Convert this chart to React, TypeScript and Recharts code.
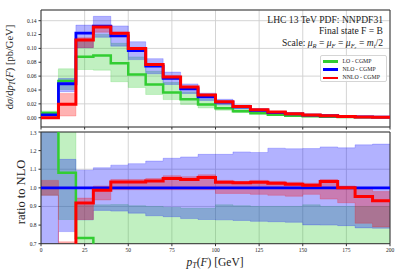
import {
  Area,
  CartesianGrid,
  ComposedChart,
  Line,
  ReferenceArea,
  XAxis,
  YAxis,
} from "recharts";

const FONT = '"Liberation Serif", "DejaVu Serif", serif';
const GREEN = "#32cd32";
const BLUE = "#0000ff";
const RED = "#ff0000";
const FRAME = "#333333";
const GRID = "#cfcfcf";

// bins of 10 GeV, value held from bin start to next edge
const binStart = [0, 10, 20, 30, 40, 50, 60, 70, 80, 90, 100, 110, 120, 130, 140, 150, 160, 170, 180, 190];
const xMax = 200;
const xTicks = [0, 25, 50, 75, 100, 125, 150, 175, 200];
const topTicks = [0, 0.02, 0.04, 0.06, 0.08, 0.1, 0.12, 0.14];
const ratioTicks = [0.7, 0.8, 0.9, 1.0, 1.1, 1.2, 1.3];
const topDomain: [number, number] = [-0.0134, 0.1554];
const ratioDomain: [number, number] = [0.7, 1.3];

// dsigma/dpT [pb/GeV]
const loTop = [0.0067, 0.053, 0.088, 0.0897, 0.0787, 0.0623, 0.048, 0.0362, 0.0268, 0.019, 0.0135, 0.0092, 0.0063, 0.0042, 0.0027, 0.0021, 0.0013, 0.001, 0.0008, 0.0006];
const nloTop = [0.004, 0.049, 0.122, 0.132, 0.118, 0.097, 0.0745, 0.0568, 0.0418, 0.0300, 0.0225, 0.0155, 0.0108, 0.0075, 0.0055, 0.0037, 0.0028, 0.0019, 0.0011, 0.0009];
const nnloTop = [0.0, 0.0195, 0.112, 0.131, 0.122, 0.0998, 0.0767, 0.0586, 0.0442, 0.0326, 0.0232, 0.0163, 0.0115, 0.0082, 0.0058, 0.0038, 0.0029, 0.0019, 0.001, 0.0008];

// ratio to NLO central
const loRatio = [1.67, 1.081, 0.73, 0.68, 0.667, 0.64, 0.64, 0.63, 0.64, 0.63, 0.6, 0.59, 0.58, 0.56, 0.5, 0.57, 0.46, 0.53, 0.66, 0.6];
const nnloRatio = [0.0, 0.4, 0.919, 0.987, 1.032, 1.032, 1.037, 1.05, 1.045, 1.055, 1.03, 1.027, 1.03, 1.025, 1.02, 1.014, 1.034, 1.0, 0.954, 0.931];

// scale-variation envelopes, relative to NLO central
const loBandLow = [0.96, 0.83, 0.57, 0.52, 0.44, 0.45, 0.45, 0.46, 0.46, 0.47, 0.48, 0.48, 0.48, 0.48, 0.48, 0.48, 0.48, 0.48, 0.48, 0.48];
const loBandHigh = [2.4, 1.44, 0.905, 0.909, 0.91, 0.904, 0.9, 0.895, 0.89, 0.89, 0.909, 0.904, 0.9, 0.9, 0.9, 0.909, 0.9, 0.9, 0.9, 0.9];
const nloBandLow = [0.5, 0.765, 0.828, 0.879, 0.875, 0.864, 0.85, 0.845, 0.835, 0.83, 0.828, 0.825, 0.82, 0.818, 0.815, 0.801, 0.8, 0.797, 0.785, 0.783];
const nloBandHigh = [1.4, 1.153, 1.095, 1.108, 1.122, 1.13, 1.144, 1.159, 1.166, 1.18, 1.18, 1.193, 1.19, 1.213, 1.21, 1.211, 1.22, 1.215, 1.231, 1.235];
const nnloBandLow = [0.96, 0.05, 0.83, 0.935, 0.99, 0.99, 0.99, 0.99, 0.99, 0.99, 0.97, 0.97, 0.965, 0.96, 0.955, 0.965, 0.94, 0.92, 0.81, 0.79];
const nnloBandHigh = [1.04, 0.71, 0.945, 1.01, 1.045, 1.045, 1.05, 1.065, 1.06, 1.07, 1.04, 1.035, 1.04, 1.035, 1.03, 1.025, 1.045, 1.01, 1.0, 0.98];

const rows = [...binStart, xMax].map((x, i) => {
  const j = Math.min(i, binStart.length - 1);
  const n = nloTop[j];
  return {
    x,
    lo: loTop[j],
    nlo: nloTop[j],
    nnlo: nnloTop[j],
    loBand: [loBandLow[j] * n, loBandHigh[j] * n],
    nloBand: [nloBandLow[j] * n, nloBandHigh[j] * n],
    nnloBand: [nnloBandLow[j] * n, nnloBandHigh[j] * n],
    loR: loRatio[j],
    nloR: 1,
    nnloR: nnloRatio[j],
    loBandR: [loBandLow[j], loBandHigh[j]],
    nloBandR: [nloBandLow[j], nloBandHigh[j]],
    nnloBandR: [nnloBandLow[j], nnloBandHigh[j]],
  };
});

const tickStyle = { fontSize: 5.5, fill: "#222", fontFamily: FONT };

function bands(suffix: string) {
  const list = [
    { key: "loBand", color: GREEN },
    { key: "nloBand", color: BLUE },
    { key: "nnloBand", color: RED },
  ];
  return list.map((b) => (
    <Area
      key={b.key + suffix}
      dataKey={b.key + suffix}
      type="stepAfter"
      fill={b.color}
      fillOpacity={0.3}
      stroke={b.color}
      strokeOpacity={0.25}
      strokeWidth={0.8}
      isAnimationActive={false}
      dot={false}
      activeDot={false}
    />
  ));
}

function lines(suffix: string) {
  const list = [
    { key: "lo", color: GREEN, w: 2.5 },
    { key: "nlo", color: BLUE, w: 2.8 },
    { key: "nnlo", color: RED, w: 3 },
  ];
  return list.map((l) => (
    <Line
      key={l.key + suffix}
      dataKey={l.key + suffix}
      type="stepAfter"
      stroke={l.color}
      strokeWidth={l.w}
      dot={false}
      activeDot={false}
      isAnimationActive={false}
    />
  ));
}

const legendItems = [
  { label: "LO - CGMP", color: GREEN },
  { label: "NLO - CGMP", color: BLUE },
  { label: "NNLO - CGMP", color: RED },
];

export default function App() {
  return (
    <div style={{ position: "absolute", left: 0, top: 0, width: 407, height: 271, background: "#fff" }}>
      <div style={{ position: "absolute", left: 0, top: 0 }}>
        <ComposedChart width={407} height={130} data={rows} margin={{ top: 10, right: 17, bottom: 0, left: 0 }}>
          <CartesianGrid stroke={GRID} strokeWidth={0.9} />
          <XAxis
            dataKey="x"
            type="number"
            domain={[0, xMax]}
            ticks={xTicks}
            allowDataOverflow
            height={3}
            tickSize={2.5}
            tickLine={{ stroke: FRAME }}
            axisLine={false}
            tickFormatter={() => ""}
          />
          <YAxis
            type="number"
            domain={topDomain}
            ticks={topTicks}
            allowDataOverflow
            width={41}
            tickSize={2.5}
            tickLine={{ stroke: FRAME }}
            axisLine={false}
            tick={tickStyle}
            tickFormatter={(v: number) => v.toFixed(2)}
          />
          {bands("")}
          {lines("")}
          <ReferenceArea x1={0} x2={xMax} y1={topDomain[0]} y2={topDomain[1]} fill="none" stroke={FRAME} strokeWidth={1} />
        </ComposedChart>
      </div>
      <div style={{ position: "absolute", left: 0, top: 130 }}>
        <ComposedChart width={407} height={141} data={rows} margin={{ top: 2, right: 17, bottom: 0, left: 0 }}>
          <CartesianGrid stroke={GRID} strokeWidth={0.9} />
          <XAxis
            dataKey="x"
            type="number"
            domain={[0, xMax]}
            ticks={xTicks}
            allowDataOverflow
            height={27.3}
            tickSize={2.5}
            tickLine={{ stroke: FRAME }}
            axisLine={false}
            tick={tickStyle}
          />
          <YAxis
            type="number"
            domain={ratioDomain}
            ticks={ratioTicks}
            allowDataOverflow
            width={41}
            tickSize={2.5}
            tickLine={{ stroke: FRAME }}
            axisLine={false}
            tick={tickStyle}
            tickFormatter={(v: number) => v.toFixed(1)}
          />
          {bands("R")}
          {lines("R")}
          <ReferenceArea x1={0} x2={xMax} y1={ratioDomain[0]} y2={ratioDomain[1]} fill="none" stroke={FRAME} strokeWidth={1} />
        </ComposedChart>
      </div>

      <svg
        width={407}
        height={271}
        style={{ position: "absolute", left: 0, top: 0, pointerEvents: "none" }}
        fontFamily={FONT}
        fill="#222"
      >
        <text transform="translate(13,67) rotate(-90)" textAnchor="middle" fontSize={10.5}>
          d<tspan fontStyle="italic">σ</tspan>/d<tspan fontStyle="italic">p</tspan>
          <tspan fontStyle="italic" fontSize={7.5} dy={2}>T</tspan>
          <tspan dy={-2}>(</tspan>
          <tspan fontStyle="italic">F</tspan>) [pb/GeV]
        </text>
        <text transform="translate(25,192) rotate(-90)" textAnchor="middle" fontSize={12.5}>
          ratio to NLO
        </text>
        <text x={215} y={265.5} textAnchor="middle" fontSize={11.5}>
          <tspan fontStyle="italic">p</tspan>
          <tspan fontStyle="italic" fontSize={8} dy={2}>T</tspan>
          <tspan dy={-2}>(</tspan>
          <tspan fontStyle="italic">F</tspan>) [GeV]
        </text>
        <text x={383} y={22.7} textAnchor="end" fontSize={9.6}>
          LHC 13 TeV PDF: NNPDF31
        </text>
        <text x={383} y={34.4} textAnchor="end" fontSize={9.6}>
          Final state F = B
        </text>
        <text x={383} y={46} textAnchor="end" fontSize={9.6}>
          Scale: <tspan fontStyle="italic">μ</tspan>
          <tspan fontStyle="italic" fontSize={6.5} dy={1.8}>R</tspan>
          <tspan dy={-1.8}> = </tspan>
          <tspan fontStyle="italic">μ</tspan>
          <tspan fontStyle="italic" fontSize={6.5} dy={1.8}>F</tspan>
          <tspan dy={-1.8}> = </tspan>
          <tspan fontStyle="italic">μ</tspan>
          <tspan fontStyle="italic" fontSize={6.5} dy={1.8}>F</tspan>
          <tspan fontStyle="italic" fontSize={5} dy={1}>r</tspan>
          <tspan dy={-2.8}> = </tspan>
          <tspan fontStyle="italic">m</tspan>
          <tspan fontStyle="italic" fontSize={6.5} dy={1.8}>t</tspan>
          <tspan dy={-1.8}>/2</tspan>
        </text>
      </svg>

      <div
        style={{
          position: "absolute",
          left: 320,
          top: 55,
          width: 67,
          height: 27,
          boxSizing: "border-box",
          border: "1px solid #d5d5d5",
          borderRadius: 2,
          background: "rgba(255,255,255,0.85)",
          fontFamily: FONT,
          fontSize: 5.8,
          color: "#222",
          paddingTop: 1.5,
        }}
      >
        {legendItems.map((it) => (
          <div key={it.label} style={{ display: "flex", alignItems: "center", height: 8.2, paddingLeft: 2 }}>
            <div style={{ width: 15, height: 2.6, background: it.color, marginRight: 4.5 }} />
            <span style={{ whiteSpace: "nowrap", lineHeight: 1 }}>{it.label}</span>
          </div>
        ))}
      </div>
    </div>
  );
}
